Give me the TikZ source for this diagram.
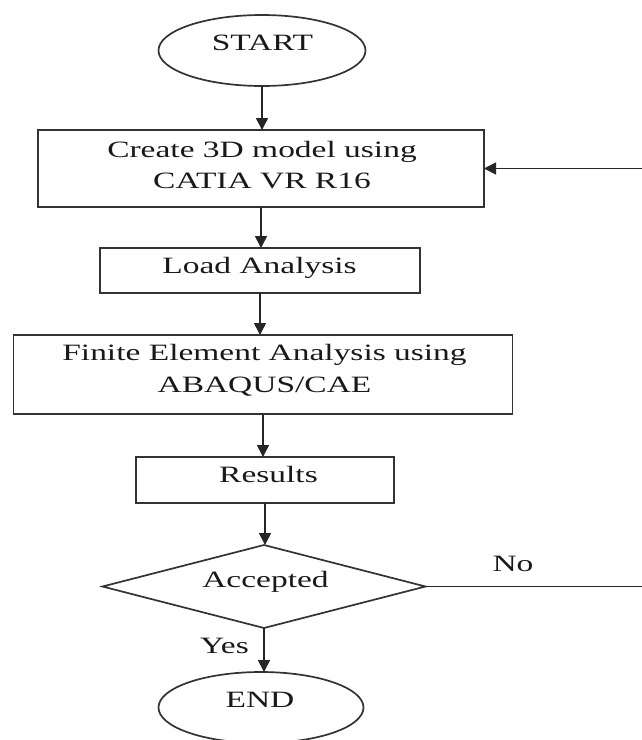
\documentclass[tikz,border=0pt]{standalone}
\usepackage{fontspec}
\setmainfont{Liberation Serif}
\usetikzlibrary{shapes.geometric,arrows.meta}
\newcommand{\wtxt}[1]{\scalebox{1.43}[1]{\begin{tabular}[t]{@{}c@{}}#1\end{tabular}}}
\begin{document}
\begin{tikzpicture}[x=1pt,y=-1pt,
  shp/.style={draw=black!80, line width=1.7pt, inner sep=0pt, outer sep=0pt},
  boxshape/.style={shp, rectangle},
  ovalshape/.style={shp, ellipse},
  decision/.style={shp, diamond},
  txt/.style={anchor=base, inner sep=0pt, text=black!90, font=\fontsize{23.4}{31}\selectfont},
  arr/.style={draw=black!85, line width=1.7pt, -{Triangle[length=12pt,width=12pt]}}]
\path[use as bounding box, fill=white] (0,0) rectangle (641,740);

% shapes
\node[ovalshape, minimum width=207pt, minimum height=71pt] (start) at (262,50.5) {};
\node[boxshape, minimum width=446pt, minimum height=77pt] (b1) at (261,168.5) {};
\node[boxshape, minimum width=320pt, minimum height=45pt] (load) at (260,270.5) {};
\node[boxshape, minimum width=499pt, minimum height=79pt] (fea) at (263,374.5) {};
\node[boxshape, minimum width=258pt, minimum height=46pt] (res) at (265,480) {};
\node[decision, minimum width=323pt, minimum height=83pt] (dia) at (264,586.5) {};
\node[ovalshape, minimum width=205pt, minimum height=71pt] (end) at (261,707.5) {};

% texts
\node[txt] (tstart) at (262.5,50) {\wtxt{START}};
\node[txt] (tb1) at (262,157) {\wtxt{Create 3D model using\\CATIA VR R16}};
\node[txt] (tload) at (259.5,273) {\wtxt{Load Analysis}};
\node[txt] (tfea) at (264.5,360) {\wtxt{Finite Element Analysis using\\[1pt]ABAQUS/CAE}};
\node[txt] (tres) at (268.5,482) {\wtxt{Results}};
\node[txt] (tdia) at (265.5,587) {\wtxt{Accepted}};
\node[txt] (tend) at (260,707) {\wtxt{END}};
\node[txt] (tno) at (513,571) {\wtxt{No}};
\node[txt] (tyes) at (224.5,653) {\wtxt{Yes}};

% connectors
\draw[arr] (start.south) -- (start.south |- b1.north);
\draw[arr] (b1.south) -- (b1.south |- load.north);
\draw[arr] (load.south) -- (load.south |- fea.north);
\draw[arr] (fea.south) -- (fea.south |- res.north);
\draw[arr] (res.south) -- (res.south |- dia.north);
\draw[arr] (dia.south) -- (dia.south |- end.north);
\coordinate (nr) at (643,586.5);
\draw[arr] (dia.east) -- (nr) |- (b1.east);
\end{tikzpicture}
\end{document}
